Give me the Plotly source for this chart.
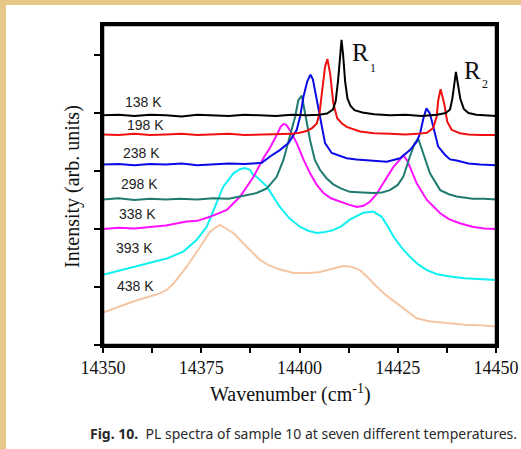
import plotly.graph_objects as go

# ---------------- data ----------------
temps = ["138 K", "198 K", "238 K", "298 K", "338 K", "393 K", "438 K"]
colors = ["#000000", "#f01010", "#0a0ae6", "#1f7b6f", "#ff10ff", "#10f0f0", "#f6c6a4"]

wn_138 = [14350, 14354, 14358, 14362, 14366, 14370, 14374, 14378, 14382, 14386, 14390, 14394, 14398,
          14402, 14405, 14407, 14408.5, 14409.2, 14409.8, 14410.3, 14410.7, 14411.1, 14411.6, 14412.2,
          14413, 14414, 14416, 14419, 14423, 14427, 14431, 14435, 14437.2, 14438.3, 14438.9, 14439.4,
          14439.8, 14440.3, 14440.9, 14441.8, 14443, 14445, 14447, 14450]
int_138 = [3.96, 3.97, 3.95, 3.97, 3.96, 3.94, 3.97, 3.96, 3.95, 3.97, 3.96, 3.95, 3.97,
           3.96, 3.97, 3.99, 4.06, 4.2, 4.55, 4.95, 5.26, 5.0, 4.55, 4.25,
           4.12, 4.05, 4.01, 3.98, 3.96, 3.97, 3.95, 3.97, 4.0, 4.06, 4.25, 4.5,
           4.71, 4.5, 4.25, 4.07, 4.0, 3.97, 3.96, 3.95]

wn_198 = [14350, 14354, 14358, 14362, 14366, 14370, 14374, 14378, 14382, 14386, 14390, 14394, 14398,
          14400, 14401.8, 14403.2, 14404.4, 14405.1, 14405.6, 14406.1, 14406.5, 14407.1, 14407.8,
          14408.6, 14409.6, 14410.8, 14412, 14415.4, 14419, 14423, 14427, 14430, 14432.4, 14434,
          14434.9, 14435.3, 14435.9, 14436.8, 14437.6, 14438.7, 14440.8, 14443, 14446, 14450]
int_198 = [3.63, 3.62, 3.64, 3.62, 3.63, 3.64, 3.62, 3.63, 3.64, 3.62, 3.63, 3.64, 3.64,
           3.66, 3.69, 3.74, 3.82, 4.0, 4.28, 4.6, 4.8, 4.93, 4.68,
           4.17, 3.91, 3.82, 3.76, 3.68, 3.65, 3.64, 3.63, 3.64, 3.66, 3.74,
           3.94, 4.22, 4.41, 4.17, 3.85, 3.71, 3.65, 3.63, 3.62, 3.62]

wn_238 = [14350, 14354, 14358, 14362, 14366, 14370, 14374, 14378, 14382, 14386, 14390.4, 14392.5,
          14395, 14397.2, 14399.3, 14400.2, 14401, 14402, 14402.8, 14403.4, 14403.9, 14404.6, 14405.2,
          14406.5, 14408.2, 14410.3, 14412, 14414.5, 14417.1, 14420, 14422.2, 14425.6, 14428.1,
          14429.8, 14430.7, 14431.5, 14432.3, 14433.2, 14434.2, 14435.3, 14437, 14438.3, 14440,
          14443, 14446, 14450]
int_238 = [3.11, 3.12, 3.1, 3.12, 3.11, 3.13, 3.1, 3.12, 3.13, 3.12, 3.14, 3.25,
           3.36, 3.48, 3.71, 3.95, 4.28, 4.55, 4.66, 4.58, 4.4, 4.15, 3.94,
           3.48, 3.31, 3.26, 3.22, 3.2, 3.19, 3.17, 3.16, 3.22, 3.36,
           3.5, 3.65, 3.9, 4.08, 3.99, 3.71, 3.42, 3.28, 3.2, 3.18,
           3.13, 3.11, 3.1]

wn_298 = [14350, 14354, 14358, 14362, 14366, 14369.6, 14374, 14378.1, 14382, 14384.9, 14389.1,
          14391.7, 14394.2, 14395.9, 14397.6, 14398.9, 14399.7, 14400.6, 14401.4, 14402.7, 14403.9,
          14405.2, 14406.8, 14408.6, 14410.5, 14412.8, 14416, 14418.8, 14421, 14423, 14425,
          14426.4, 14428.1, 14429.3, 14430.2, 14431.5, 14433.2, 14435.8, 14438, 14440, 14444,
          14447, 14450]
int_298 = [2.51, 2.53, 2.5, 2.52, 2.51, 2.52, 2.51, 2.53, 2.52, 2.56, 2.62,
           2.7, 2.9, 3.19, 3.59, 3.94, 4.22, 4.3, 4.0, 3.53, 3.19,
           3.02, 2.88, 2.77, 2.7, 2.64, 2.63, 2.62, 2.63, 2.67, 2.76,
           2.9, 3.25, 3.48, 3.56, 3.31, 2.96, 2.67, 2.6, 2.56, 2.52,
           2.52, 2.51]

wn_338 = [14350, 14354, 14358, 14362, 14366, 14371.3, 14374, 14377.2, 14381.5, 14384.9, 14388.3,
          14390.8, 14392.5, 14394.2, 14395.2, 14395.9, 14396.6, 14397.6, 14399.3, 14401, 14402.7,
          14404.3, 14406.1, 14408, 14410.3, 14412.5, 14414.6, 14416.3, 14417.9, 14419.6, 14421.3,
          14423.9, 14425.6, 14426.4, 14427.2, 14428.1, 14429.8, 14432.4, 14435.8, 14438,
          14440.8, 14444, 14447, 14450]
int_338 = [2.0, 2.02, 2.01, 2.04, 2.06, 2.13, 2.14, 2.21, 2.33, 2.56, 2.9,
           3.22, 3.4, 3.62, 3.76, 3.81, 3.8, 3.7, 3.48, 3.2, 2.96,
           2.77, 2.62, 2.53, 2.47, 2.42, 2.38, 2.4, 2.47, 2.6, 2.79,
           3.07, 3.2, 3.27, 3.2, 3.07, 2.79, 2.5, 2.27, 2.17,
           2.1, 2.04, 2.01, 2.0]

wn_393 = [14350, 14354, 14357.7, 14362, 14366.2, 14370.4, 14373.8, 14376.4, 14378.5, 14380.6,
          14383.2, 14384.8, 14386.1, 14387.4, 14388.2, 14389.1, 14391.7, 14393.5, 14395, 14397.5,
          14400.1, 14402.2, 14404.4, 14406.5, 14408.6, 14410.7, 14412.8, 14414.5, 14416.2, 14418.8,
          14420.9, 14422.4, 14423.9, 14426, 14428.1, 14430.2, 14432.4, 14435, 14438.3, 14442,
          14446, 14450]
int_393 = [1.21, 1.28, 1.35, 1.42, 1.49, 1.61, 1.81, 2.04, 2.38, 2.73,
           2.96, 3.03, 3.05, 3.02, 2.93, 2.9, 2.73, 2.55, 2.38, 2.18,
           2.04, 1.97, 1.93, 1.95, 1.98, 2.05, 2.16, 2.22, 2.28, 2.3,
           2.21, 2.05, 1.87, 1.68, 1.52, 1.39, 1.29, 1.22, 1.18, 1.15,
           1.13, 1.12]

wn_438 = [14350, 14354, 14357.7, 14361, 14364.5, 14366.2, 14367.9, 14369.6, 14371.3, 14374.7,
          14377.2, 14378.7, 14379.8, 14381.5, 14383.2, 14386.6, 14389.9, 14392, 14394.2, 14398.4,
          14400.1, 14402.7, 14405.2, 14408, 14411.1, 14413.2, 14415.4, 14417.5, 14419.6, 14422,
          14424.7, 14427.2, 14429.8, 14433, 14435.5, 14438.3, 14442, 14446, 14450]
int_438 = [0.56, 0.66, 0.75, 0.82, 0.89, 0.95, 1.06, 1.2, 1.35, 1.69,
           1.95, 2.03, 2.07, 2.0, 1.93, 1.69, 1.47, 1.38, 1.32, 1.24,
           1.24, 1.24, 1.26, 1.31, 1.36, 1.35, 1.29, 1.16, 1.01, 0.86,
           0.72, 0.58, 0.46, 0.41, 0.39, 0.37, 0.35, 0.34, 0.32]

label_wn = [14360.2, 14360.7, 14359.9, 14359.4, 14358.8, 14357.9, 14358.3]
label_int = [4.19, 3.79, 3.31, 2.77, 2.26, 1.67, 1.02]

x_ticks = [14350, 14362.5, 14375, 14387.5, 14400, 14412.5, 14425, 14437.5, 14450]
x_tick_labels = ["14350", "", "14375", "", "14400", "", "14425", "", "14450"]
y_ticks = [0, 1, 2, 3, 4, 5]

series_wn = [wn_138, wn_198, wn_238, wn_298, wn_338, wn_393, wn_438]
series_int = [int_138, int_198, int_238, int_298, int_338, int_393, int_438]

# ---------------- figure ----------------
fig = go.Figure()
# draw hottest first so cooler curves sit on top
for i in reversed(range(len(temps))):
    fig.add_trace(go.Scatter(x=series_wn[i], y=series_int[i], mode="lines",
                             line=dict(color=colors[i], width=2), name=temps[i],
                             showlegend=False, hoverinfo="skip"))

for t, xw, yi in zip(temps, label_wn, label_int):
    fig.add_annotation(x=xw, y=yi, text=t, showarrow=False, xanchor="center", yanchor="middle",
                       font=dict(family="Liberation Sans, Arial, sans-serif", size=14, color="#222222"))

serif = "Liberation Serif, Times New Roman, serif"
# R1 / R2 peak labels
fig.add_annotation(x=14415.6, y=5.05, text="R", showarrow=False, font=dict(family=serif, size=25, color="#111"))
fig.add_annotation(x=14418.8, y=4.77, text="1", showarrow=False, font=dict(family=serif, size=12, color="#111"))
fig.add_annotation(x=14443.9, y=4.74, text="R", showarrow=False, font=dict(family=serif, size=25, color="#111"))
fig.add_annotation(x=14447.3, y=4.5, text="2", showarrow=False, font=dict(family=serif, size=12, color="#111"))

# axis titles
fig.add_annotation(xref="paper", yref="paper", x=0.476, y=-0.15, text="Wavenumber (cm<sup>-1</sup>)",
                   showarrow=False, xanchor="center", yanchor="middle",
                   font=dict(family=serif, size=20, color="#111"))
fig.add_annotation(xref="paper", yref="paper", x=-0.0763, y=0.494, text="Intensity (arb. units)",
                   textangle=-90, showarrow=False, xanchor="center", yanchor="middle",
                   font=dict(family=serif, size=20, color="#111"))
# caption
fig.add_annotation(xref="paper", yref="paper", x=-0.038, y=-0.278,
                   text="<b>Fig. 10.</b>  PL spectra of sample 10 at seven different temperatures.",
                   showarrow=False, xanchor="left", yanchor="middle",
                   font=dict(family="Noto Sans, sans-serif", size=14, color="#2a2a2a"))

# white page panel over tan background
fig.add_shape(type="rect", xref="paper", yref="paper", x0=-0.2468, x1=1.07, y0=-0.34, y1=1.0625,
              fillcolor="white", line=dict(width=0), layer="below")
# plot frame drawn explicitly
fig.add_shape(type="rect", xref="paper", yref="paper", x0=0, x1=1, y0=0, y1=1,
              fillcolor="rgba(0,0,0,0)", line=dict(color="black", width=2.5), layer="above")

fig.update_xaxes(range=[14350, 14450], tickmode="array", tickvals=x_ticks, ticktext=x_tick_labels,
                 ticks="outside", ticklen=5, tickwidth=1.5, tickcolor="black",
                 showline=True, linewidth=2.5, linecolor="black", mirror=True,
                 showgrid=False, zeroline=False,
                 tickfont=dict(family=serif, size=18, color="#111"))
fig.update_yaxes(range=[0, 5.517], tickmode="array", tickvals=y_ticks, showticklabels=False,
                 ticks="outside", ticklen=6, tickwidth=1.5, tickcolor="black",
                 showline=True, linewidth=2.5, linecolor="black", mirror=True,
                 showgrid=False, zeroline=False)

fig.update_layout(width=521, height=449, margin=dict(l=103, r=25, t=25, b=104, autoexpand=False),
                  paper_bgcolor="#e6c887", plot_bgcolor="white", showlegend=False)

fig.write_html("out.html", config={"displayModeBar": False},
               post_script="document.body.style.margin='0';document.body.style.overflow='hidden';")
